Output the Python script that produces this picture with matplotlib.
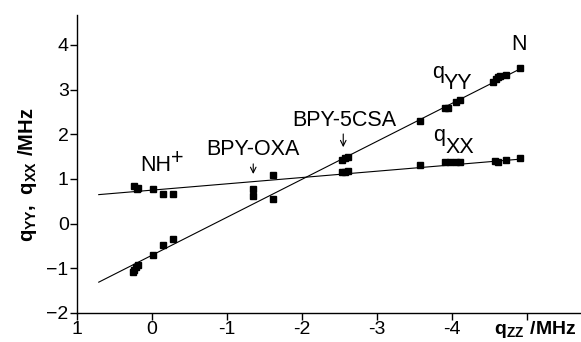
import numpy as np
import matplotlib
matplotlib.use("Agg")
import matplotlib.pyplot as plt

plt.rcParams['font.family'] = ['Liberation Sans', 'DejaVu Sans']
plt.rcParams['mathtext.fontset'] = 'custom'
plt.rcParams['mathtext.rm'] = 'Liberation Sans'
plt.rcParams['mathtext.bf'] = 'Liberation Sans:bold'

# measured points (q_ZZ, q_YY, q_XX in MHz)
qzz_yy = [0.25, 0.24, 0.21, 0.19, -0.02, -0.15, -0.28, -1.35, -1.61,
          -2.53, -2.57, -2.62, -3.57, -3.91, -3.95, -4.06, -4.11,
          -4.55, -4.59, -4.62, -4.64, -4.72, -4.91]
qyy = [-1.08, -1.04, -0.96, -0.93, -0.70, -0.48, -0.35, 0.61, 0.56,
       1.42, 1.46, 1.50, 2.30, 2.59, 2.59, 2.72, 2.76,
       3.18, 3.24, 3.28, 3.31, 3.33, 3.48]

qzz_xx = [0.24, 0.20, 0.19, -0.01, -0.15, -0.28, -1.35, -1.61,
          -2.53, -2.58, -2.62, -3.57, -3.91, -3.97, -4.06, -4.11,
          -4.57, -4.62, -4.72, -4.91]
qxx = [0.85, 0.78, 0.80, 0.78, 0.67, 0.67, 0.78, 1.09,
       1.16, 1.16, 1.19, 1.31, 1.37, 1.38, 1.38, 1.38,
       1.41, 1.38, 1.43, 1.46]

# fitted lines
fit_x = [0.71, -4.95]
fit_yy = [-1.31, 3.50]
fit_xx = [0.65, 1.45]

xticks = [1, 0, -1, -2, -3, -4, -5]
xticklabels = ['1', '0', '-1', '-2', '-3', '-4', '']
yticks = [-2, -1, 0, 1, 2, 3, 4]

fig = plt.figure(figsize=(5.81, 3.42), dpi=100)
ax = fig.add_axes([0.1325, 0.0848, 0.8675, 0.8712])

ax.plot(fit_x, fit_yy, color='black', lw=0.8)
ax.plot(fit_x, fit_xx, color='black', lw=0.8)
ax.plot(qzz_yy, qyy, 's', color='black', ms=4.5)
ax.plot(qzz_xx, qxx, 's', color='black', ms=4.5)

ax.set_xlim(1, -5.72)
ax.set_ylim(-2, 4.67)
ax.set_xticks(xticks)
ax.set_xticklabels(xticklabels)
ax.set_yticks(yticks)
ax.tick_params(direction='out', length=5, width=1, labelsize=14, pad=1)
for s in ['top', 'right']:
    ax.spines[s].set_visible(False)
for s in ['left', 'bottom']:
    ax.spines[s].set_linewidth(1)

fs = 15.5


def label_with_offset(x, y, base, extra, dy):
    # base text, then a full-size second part shifted by dy points
    t = ax.text(x, y, base, fontsize=fs, ha='left', va='baseline')
    ax.annotate(extra, xy=(1, 0), xycoords=t, xytext=(0, dy),
                textcoords='offset points', fontsize=fs,
                ha='left', va='bottom')


ax.text(-4.89, 4.0, 'N', fontsize=fs, ha='center', va='center')
label_with_offset(-3.73, 3.27, 'q', 'YY', -8.5)
label_with_offset(-3.75, 1.84, 'q', 'XX', -8)
label_with_offset(0.16, 1.18, 'NH', '+', 5)
ax.text(-1.35, 1.66, 'BPY-OXA', fontsize=fs, ha='center', va='center')
ax.text(-2.57, 2.32, 'BPY-5CSA', fontsize=fs, ha='center', va='center')
ax.annotate('', xy=(-1.35, 1.05), xytext=(-1.35, 1.40),
            arrowprops=dict(arrowstyle='->', color='black', lw=0.8))
ax.annotate('', xy=(-2.55, 1.65), xytext=(-2.55, 2.07),
            arrowprops=dict(arrowstyle='->', color='black', lw=0.8))

fig.text(0.048, 0.49, r'$\mathbf{q_{YY},\ q_{XX}\ /MHz}$', rotation=90,
         fontsize=14.5, ha='center', va='center')
fig.text(494 / 581, 2 / 342, r'$\mathbf{q_{ZZ}\ /MHz}$', fontsize=14,
         ha='left', va='bottom')

fig.savefig('out.png', dpi=100)
